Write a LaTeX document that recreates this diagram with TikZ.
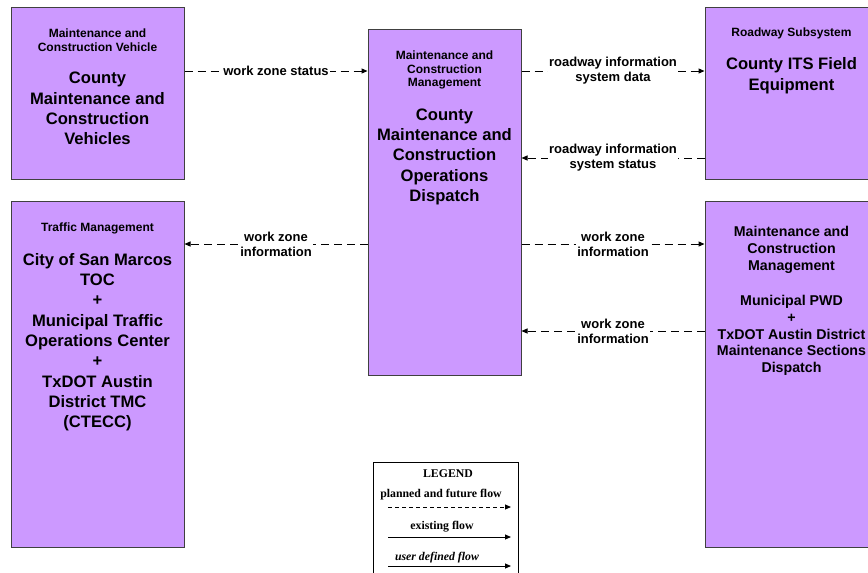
\documentclass[tikz,border=0pt]{standalone}
\usepackage{fontspec}
\setmainfont{Liberation Sans}
\newfontfamily\legfamily{Liberation Serif}
\usetikzlibrary{arrows.meta}
\definecolor{boxfill}{HTML}{CC99FF}
\newcommand\fsmall{\fontsize{12}{13.8}\selectfont\bfseries}
\newcommand\fbig{\fontsize{16.6}{20.3}\selectfont\bfseries}
\newcommand\fmid{\fontsize{14.2}{16.8}\selectfont\bfseries}
\newcommand\flab{\fontsize{13}{15}\selectfont\bfseries}
\newcommand\fleg{\legfamily\fontsize{11.8}{13}\selectfont\bfseries}
\tikzset{
  sysbox/.style={draw=black!75, line width=1pt, fill=boxfill, inner sep=0pt},
  boxtext/.style={anchor=north, inner sep=0pt, align=center},
  flow/.style={line width=1pt, dash pattern=on 8pt off 5pt, -{Triangle[length=6pt,width=5pt]}},
  solidflow/.style={line width=1pt, -{Triangle[length=6pt,width=5pt]}},
  flowlabel/.style={fill=white, inner sep=1pt, align=center, font=\flab},
}
\begin{document}
\begin{tikzpicture}[x=1pt,y=-1pt]
\useasboundingbox (0,0) rectangle (868,573);
\clip (0,0) rectangle (868,573);
% boxes
\node[sysbox, minimum width=173pt, minimum height=172pt] (A) at (97.5,93) {};
\node[sysbox, minimum width=153pt, minimum height=346pt] (B) at (444.5,202) {};
\node[sysbox, minimum width=173pt, minimum height=172pt] (C) at (791.5,93) {};
\node[sysbox, minimum width=173pt, minimum height=346pt] (D) at (97.5,374) {};
\node[sysbox, minimum width=173pt, minimum height=346pt] (E) at (791.5,374) {};
% box texts
\node[boxtext, font=\fsmall] (A1) at (97.5,28.5) {Maintenance and\\Construction Vehicle};
\node[boxtext, font=\fbig] (A2) at (97.5,72) {County\\Maintenance and\\Construction\\Vehicles};
\node[boxtext, font=\fsmall] (B1) at (444.5,50.5) {Maintenance and\\Construction\\Management};
\node[boxtext, font=\fbig] (B2) at (444.5,108.5) {County\\Maintenance and\\Construction\\Operations\\Dispatch};
\node[boxtext, font=\fsmall] (C1) at (791.5,28) {Roadway Subsystem};
\node[boxtext, font=\fbig] (C2) at (791.5,57.5) {County ITS Field\\Equipment};
\node[boxtext, font=\fsmall] (D1) at (97.5,223) {Traffic Management};
\node[boxtext, font=\fbig] (D2) at (97.5,253) {City of San Marcos\\TOC\\+\\Municipal Traffic\\Operations Center\\+\\TxDOT Austin\\District TMC\\(CTECC)};
\node[boxtext, font=\fmid] (E1) at (791.5,226) {Maintenance and\\Construction\\Management};
\node[boxtext, font=\fmid] (E2) at (791.5,295) {Municipal PWD\\+\\TxDOT Austin District\\Maintenance Sections\\Dispatch};
% connectors
\draw[flow] ([yshift=22pt]A.east) coordinate (p1) -- (p1 -| B.west)
  node[flowlabel, midway] (l1) {work zone status};
\draw[flow] ([yshift=22pt]C.west) coordinate (p2) (p2 -| B.east) -- (p2)
  node[flowlabel, midway] (l2) {roadway information\\system data};
\draw[flow] ([yshift=-65pt]C.west) coordinate (p3) -- (p3 -| B.east)
  node[flowlabel, midway] (l3) {roadway information\\system status};
\draw[flow] ([yshift=130pt]D.east) coordinate (p4) (p4 -| B.west) -- (p4)
  node[flowlabel, midway] (l4) {work zone\\information};
\draw[flow] ([yshift=130pt]E.west) coordinate (p5) (p5 -| B.east) -- (p5)
  node[flowlabel, midway] (l5) {work zone\\information};
\draw[flow] ([yshift=43pt]E.west) coordinate (p6) -- (p6 -| B.east)
  node[flowlabel, midway] (l6) {work zone\\information};
% legend
\node[draw=black, line width=1pt, fill=white, minimum width=145pt, minimum height=120pt, inner sep=0pt] (L) at (445.5,522) {};
\node[font=\fleg, inner sep=0pt] (L0) at (448,474) {LEGEND};
\node[font=\fleg, inner sep=0pt] (L1) at (441,495) {planned and future flow};
\coordinate (la1) at (388,507); \coordinate (lb1) at (511,507);
\draw[flow, dash pattern=on 4pt off 3pt] (la1) -- (lb1);
\node[font=\fleg, inner sep=0pt] (L2) at (442,527) {existing flow};
\coordinate (la2) at (388,537); \coordinate (lb2) at (511,537);
\draw[solidflow] (la2) -- (lb2);
\node[font=\fleg\itshape, inner sep=0pt] (L3) at (437,558) {user defined flow};
\coordinate (la3) at (388,566); \coordinate (lb3) at (511,566);
\draw[solidflow] (la3) -- (lb3);
\end{tikzpicture}
\end{document}
